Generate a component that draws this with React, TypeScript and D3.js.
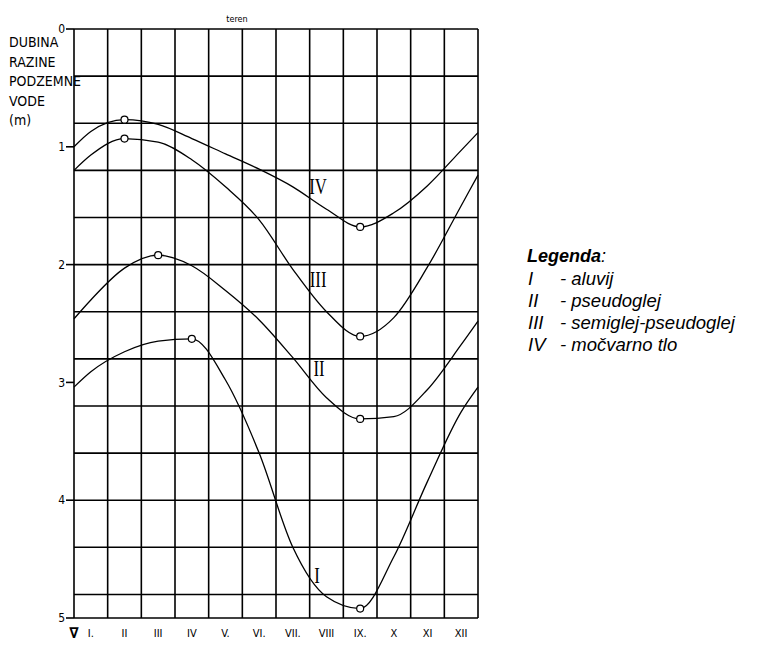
import React from "react";
import * as d3 from "d3";

// ---------- data ----------
const monthLabels = ["I.", "II", "III", "IV", "V.", "VI.", "VII.", "VIII", "IX.", "X", "XI", "XII"];
// month positions at which the depths were read (0.5 / 12.5 = left / right border)
const readAt = [0.5, 1, 2, 3, 4, 5, 6, 7, 8, 9, 10, 11, 12, 12.5];
const depthIV = [1.0, 0.87, 0.77, 0.81, 0.93, 1.06, 1.19, 1.34, 1.53, 1.68, 1.56, 1.33, 1.03, 0.88];
const depthIII = [1.2, 1.07, 0.93, 0.96, 1.11, 1.34, 1.62, 2.04, 2.4, 2.61, 2.45, 2.02, 1.5, 1.24];
const depthII = [2.46, 2.3, 2.03, 1.92, 2.01, 2.22, 2.47, 2.79, 3.13, 3.31, 3.29, 3.06, 2.68, 2.48];
const depthI = [3.04, 2.91, 2.74, 2.65, 2.63, 2.98, 3.6, 4.4, 4.82, 4.92, 4.48, 3.84, 3.25, 3.04];
const seriesNames = ["I", "II", "III", "IV"];
const markerMonthsI = [4, 9];
const markerMonthsII = [3, 9];
const markerMonthsIII = [2, 9];
const markerMonthsIV = [2, 9];
const depthTicks = [0, 1, 2, 3, 4, 5];
const axisTitleLines = ["DUBINA", "RAZINE", "PODZEMNE", "VODE", "(m)"];
const legendTitle = "Legenda";
const legendNumerals = ["I", "II", "III", "IV"];
const legendTexts = ["- aluvij", "- pseudoglej", "- semiglej-pseudoglej", "- močvarno tlo"];
const topLabel = "teren";
const waterSymbol = "∇";

// ---------- layout ----------
const W = 766;
const H = 650;
const x = d3.scaleLinear().domain([0.5, 12.5]).range([74, 478]);
const y = d3.scaleLinear().domain([0, 5]).range([29, 618]);

const series = [
  { name: seriesNames[0], values: depthI, markers: markerMonthsI, lab: [7.72, 4.63] },
  { name: seriesNames[1], values: depthII, markers: markerMonthsII, lab: [7.78, 2.87] },
  { name: seriesNames[2], values: depthIII, markers: markerMonthsIII, lab: [7.75, 2.12] },
  { name: seriesNames[3], values: depthIV, markers: markerMonthsIV, lab: [7.75, 1.33] },
];

const line = d3
  .line<number>()
  .x((_, i) => x(readAt[i]))
  .y((d) => y(d))
  .curve(d3.curveMonotoneX);

const condensed = "'DejaVu Sans Condensed', 'DejaVu Sans', sans-serif";

export default function App() {
  const hGrid = d3.range(0, 5.0001, 0.4).concat([5]);
  const vGrid = d3.range(0.5, 12.51, 1);
  return (
    <svg
      width={W}
      height={H}
      style={{ position: "absolute", left: 0, top: 0, background: "#fff" }}
    >
      <rect x={0} y={0} width={W} height={H} fill="#fff" />
      {/* grid */}
      <g stroke="#000" strokeWidth={1.6}>
        {hGrid.map((d, i) => (
          <line key={"h" + i} x1={x(0.5)} x2={x(12.5)} y1={y(d)} y2={y(d)} />
        ))}
        {vGrid.map((m, i) => (
          <line key={"v" + i} x1={x(m)} x2={x(m)} y1={y(0)} y2={y(5)} />
        ))}
      </g>
      {/* y ticks */}
      <g fontFamily={condensed} fontSize={12} fill="#000">
        {depthTicks.map((t) => (
          <g key={t}>
            <line x1={x(0.5) - 8} x2={x(0.5)} y1={y(t)} y2={y(t)} stroke="#000" strokeWidth={1.6} />
            <text x={x(0.5) - 9} y={y(t)} dy="0.35em" textAnchor="end">
              {t}
            </text>
          </g>
        ))}
      </g>
      {/* axis title */}
      <g fontFamily={condensed} fontSize={14} fill="#000">
        {axisTitleLines.map((s, i) => (
          <text key={s} x={9} y={47 + i * 19.5}>
            {s}
          </text>
        ))}
      </g>
      <text x={237} y={22} fontFamily={condensed} fontSize={9} textAnchor="middle">
        {topLabel}
      </text>
      {/* month labels */}
      <g fontFamily={condensed} fontSize={11} fill="#000">
        {monthLabels.map((m, i) => (
          <text key={m} x={x(i + 1)} y={637} textAnchor="middle">
            {m}
          </text>
        ))}
      </g>
      <text x={x(0.5)} y={638} fontFamily={condensed} fontSize={15} fontWeight="bold" textAnchor="middle">
        {waterSymbol}
      </text>
      {/* curves */}
      <g fill="none" stroke="#000" strokeWidth={1.3}>
        {series.map((s) => (
          <path key={s.name} d={line(s.values) || ""} />
        ))}
      </g>
      {/* markers */}
      <g fill="#fff" stroke="#000" strokeWidth={1.2}>
        {series.map((s) =>
          s.markers.map((m) => (
            <circle key={s.name + m} cx={x(m)} cy={y(s.values[readAt.indexOf(m)])} r={3.5} />
          ))
        )}
      </g>
      {/* series labels */}
      <g fontFamily="'Liberation Serif', serif" fontSize={24} fill="#000">
        {series.map((s) => (
          <text
            key={"l" + s.name}
            transform={`translate(${x(s.lab[0])},${y(s.lab[1])}) scale(0.7,1)`}
            dy="0.35em"
            textAnchor="middle"
          >
            {s.name}
          </text>
        ))}
      </g>
      {/* legend */}
      <g fontFamily="'Liberation Sans', Arial, sans-serif" fontStyle="italic" fill="#000">
        <text x={527} y={262} fontSize={18}>
          <tspan fontWeight="bold">{legendTitle}</tspan>:
        </text>
        {legendNumerals.map((n, i) => (
          <g key={n} fontSize={18.5}>
            <text x={528} y={285 + i * 22}>
              {n}
            </text>
            <text x={560} y={285 + i * 22}>
              {legendTexts[i]}
            </text>
          </g>
        ))}
      </g>
    </svg>
  );
}
